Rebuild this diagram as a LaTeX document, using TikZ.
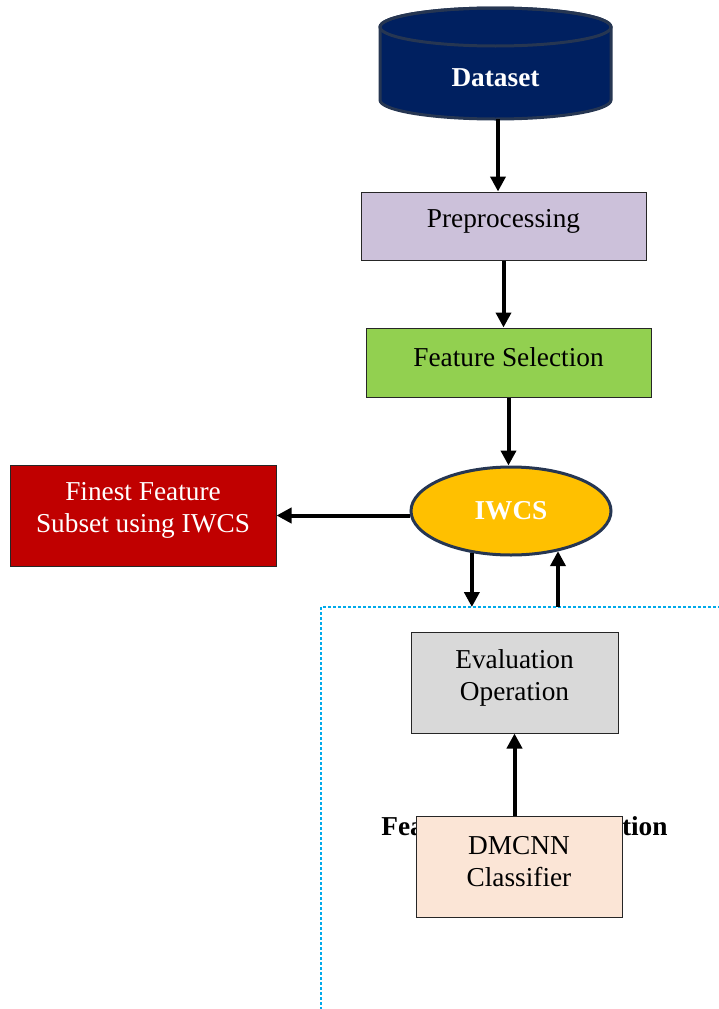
\documentclass[tikz,border=0pt]{standalone}
\usepackage{fontspec}
\setmainfont{Liberation Serif}
\usetikzlibrary{arrows.meta,shapes.geometric,calc}
\definecolor{navy}{RGB}{0,32,96}
\definecolor{cylborder}{RGB}{38,54,82}
\definecolor{prepc}{RGB}{204,193,218}
\definecolor{fselc}{RGB}{146,208,80}
\definecolor{iwcsc}{RGB}{255,192,0}
\definecolor{redc}{RGB}{192,0,0}
\definecolor{evalc}{RGB}{217,217,217}
\definecolor{dmc}{RGB}{251,229,214}
\definecolor{skyline}{RGB}{0,170,235}
\begin{document}
\begin{tikzpicture}[x=1pt,y=-1pt,
  box/.style={draw=black!85, line width=1pt, inner sep=0pt},
  txt/.style={font=\fontsize{27.3}{32}\selectfont, align=center, inner sep=0pt},
  btxt/.style={font=\fontsize{27.3}{32}\selectfont\bfseries, align=center, inner sep=0pt},
  arr/.style={line width=4pt, -{Triangle[length=15pt,width=15pt]}},
]
\useasboundingbox (0,0) rectangle (719,1009);

% dashed region
\coordinate (dtop) at (321,607);
\draw[draw=skyline, line width=1.4pt, dash pattern=on 3pt off 2pt] (321,1020) -- (dtop) -- (730,607);

% Dataset cylinder
\draw[cylborder, line width=3pt, fill=navy]
  (380,27) -- (380,100) arc[start angle=180, end angle=0, x radius=115.5, y radius=19]
  -- (611,27) arc[start angle=0, end angle=-180, x radius=115.5, y radius=19] -- cycle;
\draw[cylborder, line width=3pt] (495.5,27) ellipse[x radius=115.5, y radius=19];
\node[btxt, text=white] (dataset) at (495.5,78) {Dataset};
\coordinate (dsb) at (498,119);

% boxes
\node[box, fill=prepc, minimum width=285, minimum height=68] (pre) at (503.5,226) {};
\node[txt, yshift=5pt] (pret) at (pre.center) {Preprocessing};

\node[box, fill=fselc, minimum width=285, minimum height=69] (fs) at (508.5,362.5) {};
\node[txt, yshift=5pt] (fst) at (fs.center) {Feature Selection};

\node[ellipse, draw=cylborder, line width=3pt, fill=iwcsc, minimum width=200, minimum height=88,
  inner sep=0pt, btxt, text=white] (iwcs) at (511,511) {IWCS};

\node[box, fill=redc, minimum width=266, minimum height=101] (red) at (143,515.5) {};
\node[txt, text=white, yshift=5pt] (redt) at (red.center) {Finest Feature\\Subset using IWCS};

\node[box, fill=evalc, minimum width=207, minimum height=101] (ev) at (514.5,682.5) {};
\node[txt, yshift=5pt] (evt) at (ev.center) {Evaluation\\Operation};

\node[btxt] (hid) at (524.5,826) {Feature Subset Selection};

\node[box, fill=dmc, minimum width=206, minimum height=101] (dm) at (519,866.5) {};
\node[txt, yshift=5pt] (dmt) at (dm.center) {DMCNN\\Classifier};

% connectors
\draw[arr] (dsb) -- (dsb |- pre.north);
\draw[arr] (pre.south) -- (pre.south |- fs.north);
\draw[arr] (fs.south) -- (fs.south |- iwcs.north);
\draw[arr] (iwcs.west |- red.east) -- (red.east);
\draw[arr] (iwcs.-133) -- (iwcs.-133 |- dtop);
\coordinate (up0) at (558,607);
\draw[arr] (up0) -- (up0 |- iwcs.-40);
\draw[arr] (ev.south |- dm.north) -- (ev.south);
\end{tikzpicture}
\end{document}
